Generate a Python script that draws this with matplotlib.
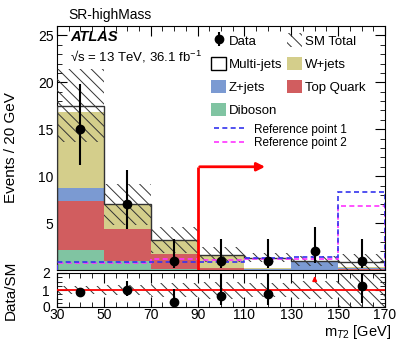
import numpy as np
import matplotlib
matplotlib.use("Agg")
import matplotlib.pyplot as plt
from matplotlib.patches import Patch
from matplotlib.lines import Line2D

plt.rcParams['font.family'] = ['Liberation Sans', 'DejaVu Sans']
plt.rcParams['hatch.linewidth'] = 0.7
plt.rcParams['mathtext.fontset'] = 'custom'
plt.rcParams['mathtext.rm'] = 'Liberation Sans'
plt.rcParams['mathtext.it'] = 'Liberation Sans:italic'

# ---- data ----
bin_edges = [30, 50, 70, 90, 110, 130, 150, 170]
diboson   = [2.1, 1.0, 0.1, 0.05, 0.0, 0.0, 0.05]
top_quark = [5.3, 3.35, 1.6, 0.15, 0.05, 0.0, 0.05]
z_jets    = [1.3, 0.05, 0.05, 0.05, 0.05, 0.9, 0.1]
w_jets    = [8.1, 2.6, 1.45, 1.25, 0.1, 0.0, 0.1]
multi_jets = [0.7, 0.0, 0.0, 0.1, 1.1, 0.05, 0.52]
sm_unc    = [3.9, 2.2, 1.4, 0.8, 0.5, 0.5, 0.9]
data      = [15, 7, 1, 1, 1, 2, 1]
data_err_lo = [3.8, 2.6, 0.83, 0.83, 0.83, 1.3, 0.83]
data_err_hi = [4.8, 3.7, 2.3, 2.3, 2.3, 2.6, 2.3]
ref_point_1 = [0.8, 0.8, 0.9, 0.9, 1.25, 1.43, 8.3]
ref_point_2 = [0.75, 0.75, 1.15, 1.1, 1.2, 1.2, 6.8]
cut_value = 90
cut_arrow_end = 120
cut_arrow_height = 11

components = [
    ("Diboson", diboson, "#80c4a2"),
    ("Top Quark", top_quark, "#d15d5f"),
    ("Z+jets", z_jets, "#7b9ad2"),
    ("W+jets", w_jets, "#d4ce8b"),
    ("Multi-jets", multi_jets, "white"),
]

edges = np.array(bin_edges, dtype=float)
centers = 0.5 * (edges[:-1] + edges[1:])
widths = np.diff(edges)

fig = plt.figure(figsize=(3.96, 3.40), dpi=100)
L, R = 57/396, 385/396
ax = fig.add_axes([L, 1-270/340, R-L, (270-26)/340])
axr = fig.add_axes([L, 1-307/340, R-L, (307-273)/340], sharex=ax)

# stack
bottom = np.zeros(len(centers))
handles = {}
for name, vals, col in components:
    vals = np.array(vals)
    b = ax.bar(centers, vals, width=widths, bottom=bottom, color=col,
               edgecolor='none', linewidth=0, zorder=2)
    handles[name] = b
    bottom = bottom + vals
total = bottom

# total outline
ax.stairs(total, edges, color='#333333', linewidth=1.0, zorder=3)
# uncertainty hatch
unc = np.array(sm_unc)
ax.bar(centers, 2*unc, width=widths, bottom=total-unc, facecolor='none',
       edgecolor='#333333', hatch='\\\\\\', linewidth=0, zorder=4)

# reference points
ax.stairs(ref_point_2, edges, color='#ff33ff', linestyle=(0, (3, 2)), linewidth=1.2, zorder=5)
ax.stairs(ref_point_1, edges, color='#3333ee', linestyle=(0, (3, 2)), linewidth=1.2, zorder=5)

# data
dat = np.array(data, dtype=float)
eb = ax.errorbar(centers, dat, yerr=[data_err_lo, data_err_hi], fmt='o', color='black',
                 markersize=6, elinewidth=1.5, capsize=0, zorder=6)

# cut arrow
ax.plot([cut_value, cut_value], [0, cut_arrow_height], color='red', lw=2, zorder=7, solid_capstyle='butt')
ax.annotate('', xy=(cut_arrow_end, cut_arrow_height), xytext=(cut_value - 0.3, cut_arrow_height),
            arrowprops=dict(arrowstyle='-|>', color='red', lw=2, mutation_scale=12), zorder=7)

ax.set_xlim(30, 170)
ax.set_ylim(0, 26)
ax.set_yticks([5, 10, 15, 20, 25])
ax.set_yticks(np.arange(1, 26, 1), minor=True)
ax.set_ylabel('Events / 20 GeV', fontsize=11)
ax.tick_params(axis='x', labelbottom=False)

for a in (ax, axr):
    a.tick_params(which='both', direction='in', top=True, right=True, labelsize=10, pad=2.5)
    a.tick_params(which='major', length=7)
    a.tick_params(which='minor', length=3.5)
axr.tick_params(axis='x', pad=1)
axr.tick_params(axis='y', pad=5)

ax.text(0.04, 0.955, 'ATLAS', transform=ax.transAxes, fontsize=10.5, fontweight='bold',
        fontstyle='italic', va='center', ha='left')
ax.text(0.04, 0.873, '√s = 13 TeV, 36.1 fb$^{-1}$', transform=ax.transAxes, fontsize=9.5,
        va='center', ha='left')
ax.text(0.035, 1.015, 'SR-highMass', transform=ax.transAxes, fontsize=10, va='bottom', ha='left')

sm_handle = Patch(facecolor='none', edgecolor='#333333', hatch='\\\\\\', linewidth=0)
mj_handle = Patch(facecolor='white', edgecolor='black', linewidth=1.0)
leg_handles = [eb, mj_handle, handles['Z+jets'], handles['Diboson'],
               sm_handle, handles['W+jets'], handles['Top Quark']]
leg_labels = ['Data', 'Multi-jets', 'Z+jets', 'Diboson', 'SM Total', 'W+jets', 'Top Quark']
leg1 = ax.legend(leg_handles, leg_labels, ncol=2, loc='upper left',
                 bbox_to_anchor=(0.47, 0.97), frameon=False, fontsize=9.5,
                 handlelength=1.15, handleheight=1.2, labelspacing=0.68,
                 columnspacing=0.35, handletextpad=0.2, borderaxespad=0, borderpad=0)
ax.add_artist(leg1)
ref_handles = [Line2D([], [], color='#3333ee', linestyle=(0, (3, 2)), lw=1.2),
               Line2D([], [], color='#ff33ff', linestyle=(0, (3, 2)), lw=1.2)]
ax.legend(ref_handles, ['Reference point 1', 'Reference point 2'], loc='upper left',
          bbox_to_anchor=(0.478, 0.6), frameon=False, fontsize=8.5, handlelength=2.6,
          labelspacing=0.1, handletextpad=0.8, borderaxespad=0, borderpad=0)

# ratio panel
ratio = dat / total
r_lo = np.array(data_err_lo) / total
r_hi = np.array(data_err_hi) / total
rel_unc = unc / total
axr.bar(centers, 2*rel_unc, width=widths, bottom=1-rel_unc, facecolor='none',
        edgecolor='#333333', hatch='\\\\\\', linewidth=0, zorder=2)
axr.axhline(1, color='red', lw=1.3, zorder=3)
inr = ratio <= 2
axr.errorbar(centers[inr], ratio[inr], yerr=[r_lo[inr], r_hi[inr]], fmt='o', color='black',
             markersize=6, elinewidth=1.5, capsize=0, zorder=5)
for c, r in zip(centers[~inr], ratio[~inr]):
    axr.annotate('', xy=(c, 1.98), xytext=(c, 1.5),
                 arrowprops=dict(arrowstyle='-|>', color='red', lw=1.2, mutation_scale=6))
axr.set_ylim(0, 2)
axr.set_yticks([0, 1, 2])
axr.set_yticks(np.arange(0, 2.01, 0.25), minor=True)
axr.set_xticks(np.arange(30, 171, 20))
axr.set_xticks(np.arange(30, 171, 5), minor=True)
axr.set_ylabel('Data/SM', fontsize=11)
axr.set_xlabel('m$_{T2}$ [GeV]', fontsize=10.5, ha='right', va='top')
axr.xaxis.set_label_coords(1.02, -0.48)
ax.yaxis.set_label_coords(-0.12, 0.5)
axr.yaxis.set_label_coords(-0.12, 0.5)

fig.savefig('out.png', dpi=100)
